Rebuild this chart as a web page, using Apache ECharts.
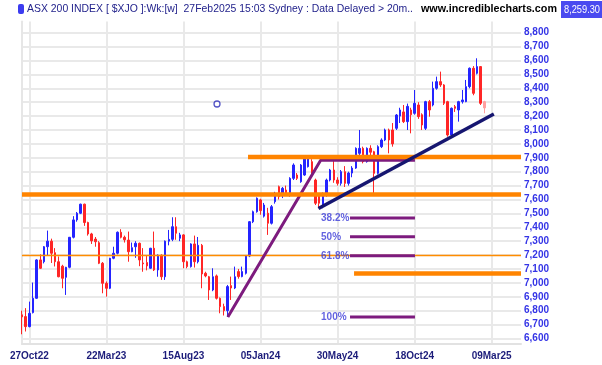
<!DOCTYPE html>
<html><head><meta charset="utf-8">
<script src="https://cdn.jsdelivr.net/npm/echarts@6/dist/echarts.min.js"></script>
<style>html,body{margin:0;padding:0;background:#fff}#c{width:602px;height:365px}</style>
</head><body><div id="c"></div>
<script>
// ---- weekly OHLC (ASX 200, ~Oct 2022 .. 27 Feb 2025) ----
const opens = [6770,6757,6685,6786,6889,7165,7152,7260,7300,7217,7152,7120,7040,7112,7328,7453,7501,7566,7434,7352,
7315,7289,7141,6997,6961,7177,7213,7364,7328,7308,7224,7260,7285,7143,7146,7105,7249,7093,7199,7044,
7300,7313,7404,7321,7345,7152,7117,7280,7152,7270,7069,7044,6949,7050,6889,6829,6800,6980,6963,7081,
7045,7069,7193,7440,7512,7597,7480,7501,7429,7584,7692,7632,7668,7632,7752,7776,7728,7776,7836,7872,
7740,7632,7560,7632,7740,7812,7740,7716,7800,7716,7790,7826,7932,7968,7872,7968,7944,7788,7980,8028,
8100,8100,8112,8200,8230,8160,8244,8220,8280,8210,8112,8304,8280,8400,8448,8424,8304,8064,8268,8244,
8304,8304,8412,8544,8508,8556,8304];
const closes = [6755,6685,6781,6889,7165,7105,7260,7300,7213,7152,7044,7033,7112,7328,7453,7501,7566,7434,7352,7302,
7296,7141,6997,6961,7177,7213,7364,7328,7310,7224,7253,7285,7165,7137,7122,7249,7093,7199,7044,7300,
7313,7404,7357,7345,7152,7117,7280,7152,7270,7064,7050,6949,7044,6889,6829,6800,6973,6963,7044,7045,
7081,7193,7440,7512,7609,7520,7560,7429,7548,7644,7620,7680,7644,7752,7848,7752,7848,7896,7896,7776,
7573,7573,7632,7740,7812,7740,7716,7800,7716,7790,7826,7968,7968,7872,7968,7940,7788,7980,8028,8100,
8028,8000,8208,8244,8160,8270,8210,8292,8196,8136,8304,8244,8400,8448,8424,8292,8064,8256,8256,8304,
8316,8412,8544,8364,8556,8292,8259];
const lows = [6630,6650,6680,6780,6885,7100,7140,7200,7143,7118,7040,6961,6913,7105,7320,7440,7495,7410,7340,7280,
7260,7135,6925,6901,6955,7170,7205,7320,7290,7152,7220,7180,7120,7080,7090,7100,7085,7044,7021,7021,
7270,7300,7310,7300,7105,7105,7110,7110,7140,6961,7040,6877,6940,6880,6781,6765,6754,6877,6955,7030,
7040,7060,7185,7430,7505,7490,7470,7345,7420,7570,7600,7610,7630,7620,7740,7740,7720,7770,7830,7760,
7560,7537,7537,7620,7730,7720,7700,7700,7690,7700,7760,7820,7920,7860,7865,7920,7632,7780,7970,8020,
7932,7980,8100,8150,8150,8100,8076,8210,8180,8100,8100,8196,8270,8390,8410,8280,8052,8050,8230,8160,
8290,8300,8400,8350,8500,8280,8220];
const highs = [6800,6818,6865,7002,7170,7205,7265,7376,7318,7250,7190,7130,7115,7330,7480,7510,7570,7570,7440,7360,
7330,7300,7150,7010,7180,7260,7370,7386,7340,7369,7290,7300,7290,7250,7200,7252,7369,7205,7205,7305,
7381,7472,7472,7360,7350,7160,7285,7340,7330,7280,7080,7050,7105,7060,6895,6850,6985,7045,7117,7100,
7117,7200,7445,7520,7615,7605,7575,7540,7560,7655,7700,7690,7700,7760,7860,7790,7855,7905,7908,7890,
7750,7640,7650,7750,7820,7884,7760,7812,7840,7800,7840,7975,8100,7980,7975,7990,7950,7990,8040,8110,
8110,8150,8215,8260,8280,8290,8260,8388,8300,8220,8310,8316,8448,8484,8520,8430,8310,8262,8280,8310,
8388,8460,8550,8560,8616,8560,8310];

// ---- x axis ----
const slotCount = 137;                       // weekly slots incl. empty right margin
const tickIdx = [2, 23, 44, 65, 86, 107, 128];
const tickLabels = ['27Oct22','22Mar23','15Aug23','05Jan24','30May24','18Oct24','09Mar25'];

// ---- drawn annotations (in data units: [week index, price]) ----
const orangeUpper = [[61.6, 7905], [136, 7905]];
const orangeMid   = [[0, 7635], [136, 7635]];
const orangeThin  = [[0, 7197], [136, 7197]];
const orangeLow   = [[90.5, 7068], [136, 7068]];
const riseLine    = [[56.1, 6754], [81.4, 7882], [107.1, 7882]];
const supportLine = [[80.8, 7535], [128.6, 8215]];
const swingLow = 6754, swingHigh = 7908;
const fibRatios = [0.382, 0.5, 0.618, 1.0];
const fibTexts  = ['38.2%', '50%', '61.8%', '100%'];
const fibSpan   = [89.4, 107.1];
const fibLabelAt = 81.5;
const markerPoint = [53.15, 8287];
const titleText = 'ASX 200 INDEX [ $XJO ]:Wk:[w]  27Feb2025 15:03 Sydney : Data Delayed > 20m..';
const siteText = 'www.incrediblecharts.com';
const lastPrice = '8,259.30';

const cats = Array.from({length: slotCount}, (_, i) => 'w' + i);
const labelMap = {};
tickIdx.forEach((k, j) => labelMap[k] = tickLabels[j]);

const candleData = opens.map((o, i) => {
  const item = { value: [o, closes[i], lows[i], highs[i]] };
  if (i === opens.length - 1) {
    item.itemStyle = { color0: '#ffa0a0', borderColor0: '#ffa0a0', color: '#ffa0a0', borderColor: '#ffa0a0' };
  }
  return item;
});

const fibLevels = fibRatios.map(r => swingHigh - r * (swingHigh - swingLow));

function hLine(data, color, width, z) {
  return { type: 'line', xAxisIndex: 1, yAxisIndex: 0, data, symbol: 'none', silent: true,
    lineStyle: { color, width, cap: 'butt' }, z, animation: false };
}

// text fitting (the reference header is horizontally condensed)
const mctx = document.createElement('canvas').getContext('2d');
function fitScale(text, font, target) { mctx.font = font; return target / mctx.measureText(text).width; }
const titleFont = '11px Arial, "Liberation Sans"';
const siteFont = 'bold 11px Arial, "Liberation Sans"';
const priceFont = '11px Arial, "Liberation Sans"';

const series = [
  { type: 'candlestick', xAxisIndex: 0, yAxisIndex: 0, data: candleData, barWidth: 2,
    itemStyle: { color: '#2424ff', color0: '#ff2626', borderColor: '#2424ff', borderColor0: '#ff2626', borderWidth: 1 },
    z: 3, animation: false },
  hLine(orangeThin, '#ff8c00', 1.5, 4),
  hLine(riseLine, '#7d1b7e', 3, 4),
  hLine(orangeUpper, '#ff8400', 4.5, 5),
  hLine(orangeMid, '#ff8400', 4.5, 5),
  hLine(orangeLow, '#ff8400', 4.5, 5),
  hLine(supportLine, '#161670', 3.5, 6),
];
fibLevels.forEach(v => series.push(hLine([[fibSpan[0], v], [fibSpan[1], v]], '#7d1b7e', 3, 4)));
series.push({
  type: 'scatter', xAxisIndex: 1, yAxisIndex: 0, silent: true, animation: false, symbolSize: 0,
  data: fibLevels.map((v, j) => ({ value: [fibLabelAt, v], name: fibTexts[j] })),
  label: { show: true, position: 'right', distance: 0, formatter: p => p.name,
    color: '#3b3bd8', fontWeight: 'bold', fontSize: 10, fontFamily: 'Arial, Liberation Sans' }, z: 7
});
series.push({
  type: 'scatter', xAxisIndex: 1, yAxisIndex: 0, silent: true, animation: false,
  data: [markerPoint], symbol: 'circle', symbolSize: 6,
  itemStyle: { color: '#ffffff', borderColor: '#2a2ab8', borderWidth: 1.3 }, z: 7
});

const chart = echarts.init(document.getElementById('c'), null, { renderer: 'canvas' });
const T = 'rgba(0,0,0,0)';
chart.setOption({
  animation: false,
  backgroundColor: '#ffffff',
  grid: { left: 22, right: 81, top: 21.6, bottom: 21, containLabel: false },
  xAxis: [
    { type: 'category', data: cats, boundaryGap: false,
      axisLine: { show: true, lineStyle: { color: '#e2e2e2', width: 2 } },
      axisTick: { show: false },
      splitLine: { show: true, interval: (i) => labelMap[i] !== undefined, lineStyle: { color: '#e9e9e9', width: 2 } },
      axisLabel: { interval: (i) => labelMap[i] !== undefined, formatter: (v, i) => labelMap[i] || '',
        color: '#1c1c7a', fontWeight: 'bold', fontSize: 10, fontFamily: 'Arial, Liberation Sans', margin: 7 } },
    { type: 'value', min: 0, max: slotCount - 1, show: false }
  ],
  yAxis: [
    { type: 'value', position: 'right', min: 6560, max: 8880, interval: 20, scale: true,
      axisLine: { show: true, lineStyle: { color: '#e6e6e6', width: 1 } },
      axisTick: { show: false },
      splitLine: { show: true, lineStyle: { color: [T, T, '#e9e9e9', T, T], width: 2 } },
      axisLabel: { margin: 3, formatter: v => (Math.round(v) % 100 === 0 ? Math.round(v).toLocaleString('en-US') : ''),
        color: '#3434e6', fontWeight: 'bold', fontSize: 10, fontFamily: 'Arial, Liberation Sans' } },
    { type: 'value', position: 'left', min: 6560, max: 8880, interval: 20,
      axisLine: { show: true, lineStyle: { color: '#e6e6e6', width: 2 } },
      axisTick: { show: false }, axisLabel: { show: false }, splitLine: { show: false } }
  ],
  series,
  graphic: [
    { type: 'rect', shape: { x: 18, y: 4, width: 6, height: 10, r: 2 }, style: { fill: '#3c3cf0' }, silent: true },
    { type: 'text', x: 27, y: 9, silent: true, scaleX: fitScale(titleText, titleFont, 386),
      style: { text: titleText, font: titleFont, fill: '#23238c', verticalAlign: 'middle' } },
    { type: 'text', x: 421, y: 9, silent: true, scaleX: fitScale(siteText, siteFont, 136),
      style: { text: siteText, font: siteFont, fill: '#000000', verticalAlign: 'middle' } },
    { type: 'rect', shape: { x: 561, y: 1, width: 41, height: 17 }, style: { fill: '#4a4af0' }, silent: true },
    { type: 'text', x: 564, y: 9.5, silent: true, scaleX: fitScale(lastPrice, priceFont, 36),
      style: { text: lastPrice, font: priceFont, fill: '#ffffff', verticalAlign: 'middle' } }
  ]
});
</script>
</body></html>
